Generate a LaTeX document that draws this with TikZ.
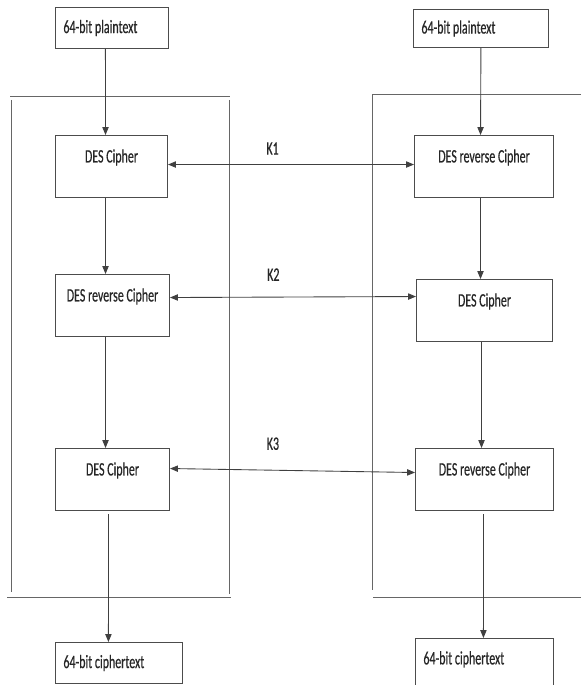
\documentclass[tikz,border=0pt]{standalone}
\usepackage{fontspec}
\setmainfont{Carlito}[FakeStretch=0.63, FakeBold=0.4]
\usetikzlibrary{arrows.meta, positioning}

\begin{document}
\begin{tikzpicture}[
        x=0.02cm, y=-0.02cm,
        font=\fontsize{10.8}{13}\selectfont,
        box/.style={rectangle, draw=black!70, line width=0.6pt, inner sep=0pt, text=black!85, anchor=north west},
        cipher/.style={box, minimum height=1.24cm, text height=8pt, text depth=12.6pt},
        databox/.style={box, minimum height=0.82cm, align=flush left, inner xsep=4.5pt},
        frame/.style={draw=black!60, line width=0.45pt},
        arrow/.style={-{Triangle[length=4.5pt, width=3.6pt]}, draw=black!75, line width=0.5pt},
        keyarrow/.style={{Triangle[length=4.5pt, width=3.6pt]}-{Triangle[length=4.5pt, width=3.6pt]}, draw=black!75, line width=0.5pt},
        keylabel/.style={text=black!85, inner sep=1pt}
    ]
        \useasboundingbox (0,0) rectangle (581,685);

        \node[databox, text width=1.94cm] (ptL) at (55,7) {64-bit plaintext};
        \node[databox, text width=2.38cm, minimum height=0.76cm] (ptR) at (413,9) {64-bit plaintext};

        \node[cipher, minimum width=2.24cm] (encL1) at (55,135) {DES Cipher};
        \node[cipher, minimum width=2.78cm] (decR1) at (414,135) {DES reverse Cipher};
        \node[cipher, minimum width=2.28cm] (decL2) at (55,274) {DES reverse Cipher};
        \node[cipher, minimum width=2.72cm] (encR2) at (416,279) {DES Cipher};
        \node[cipher, minimum width=2.28cm] (encL3) at (55,448) {DES Cipher};
        \node[cipher, minimum width=2.76cm] (decR3) at (415,448) {DES reverse Cipher};

        \node[databox, text width=2.22cm] (ctL) at (55,642) {64-bit ciphertext};
        \node[databox, text width=2.44cm, minimum height=1cm, text depth=6.5pt] (ctR) at (415,638) {64-bit ciphertext};

        \draw[frame] (10,96) -- (230,96);
        \draw[frame] (11,100) -- (11,592);
        \draw[frame] (229,100) -- (229,594);
        \draw[frame] (7,597) -- (231,597);
        \draw[frame] (581,94) -- (372,94) -- (372,590);
        \draw[frame] (373,597) -- (581,597);

        \draw[arrow] ([xshift=-0.13cm]ptL.south) -- ([xshift=-0.12cm]encL1.north);
        \draw[arrow] ([xshift=-0.12cm]encL1.south) -- ([xshift=-0.14cm]decL2.north);
        \draw[arrow] ([xshift=-0.14cm]decL2.south) -- ([xshift=-0.14cm]encL3.north);
        \draw[arrow, shorten <=0.06cm] ([xshift=-0.08cm]encL3.south) -- ([xshift=-0.21cm]ctL.north);

        \draw[arrow] (ptR.south) -- ([xshift=-0.07cm]decR1.north);
        \draw[arrow] ([xshift=-0.07cm]decR1.south) -- ([xshift=-0.08cm]encR2.north);
        \draw[arrow] ([xshift=-0.06cm]encR2.south) -- ([xshift=-0.06cm]decR3.north);
        \draw[arrow, shorten <=0.06cm] ([xshift=-0.02cm]decR3.south) -- ([xshift=-0.02cm]ctR.north);

        \draw[keyarrow] ([yshift=0.04cm]encL1.east) -- node[keylabel, pos=0.425, yshift=0.32cm] (k1) {K1} ([yshift=0.04cm]decR1.west);
        \draw[keyarrow] ([yshift=0.16cm]decL2.east) -- node[keylabel, pos=0.42, yshift=0.45cm] (k2) {K2} ([yshift=0.28cm]encR2.west);
        \draw[keyarrow] ([yshift=0.22cm]encL3.east) -- node[keylabel, pos=0.42, yshift=0.53cm] (k3) {K3} ([yshift=0.14cm]decR3.west);
    \end{tikzpicture}
\end{document}
